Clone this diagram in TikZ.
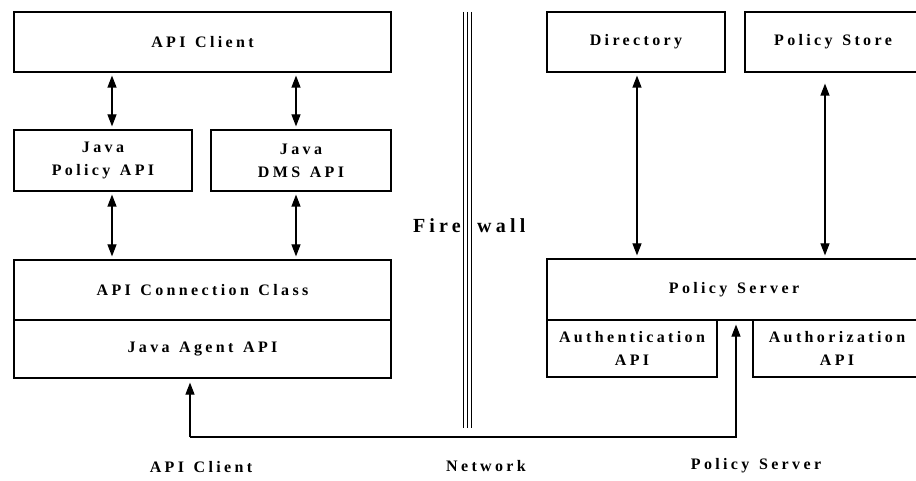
\documentclass[tikz,border=0pt]{standalone}
\usepackage{fontspec}
\newfontfamily\figfont{Liberation Serif}[LetterSpace=21, WordSpace=1.3]
\usetikzlibrary{arrows.meta}

\tikzset{
    blk/.style={draw, line width=1.2pt, inner sep=0pt, align=center,
        font=\figfont\bfseries\fontsize{16}{23}\selectfont},
    lbl/.style={inner sep=0pt, font=\figfont\bfseries\fontsize{16}{23}\selectfont},
    walllbl/.style={inner sep=0pt, font=\figfont\bfseries\fontsize{20}{24}\selectfont},
    arr/.style={{Triangle[length=12pt,width=9pt]}-{Triangle[length=12pt,width=9pt]},
        line width=1.2pt, shorten >=3pt, shorten <=3pt},
    uparr/.style={-{Triangle[length=12pt,width=9pt]}, line width=1.2pt}
}

\begin{document}
\begin{tikzpicture}[x=1pt, y=-1pt]
    \useasboundingbox (0,0) rectangle (916,481);
    % API client side
    \node[blk, minimum width=377, minimum height=60] (client) at (202.5,42) {API Client};
    \node[blk, minimum width=178, minimum height=61] (policyapi) at (103,160.5) {Java\\Policy API};
    \node[blk, minimum width=180, minimum height=61] (dmsapi) at (301,160.5) {Java\\DMS API};
    \node[blk, minimum width=377, minimum height=60] (conn) at (202.5,290) {API Connection Class};
    \node[blk, minimum width=377, minimum height=58] (agent) at (202.5,349) {Java Agent API};
    \draw[arr] (client.south -| 112,0) -- (policyapi.north -| 112,0);
    \draw[arr] (client.south -| 296,0) -- (dmsapi.north -| 296,0);
    \draw[arr] (policyapi.south -| 112,0) -- (conn.north -| 112,0);
    \draw[arr] (dmsapi.south -| 296,0) -- (conn.north -| 296,0);
    % Policy server side
    \node[blk, minimum width=178, minimum height=60] (directory) at (636,42) {Directory};
    \node[blk, minimum width=176, minimum height=60] (store) at (833,42) {Policy Store};
    \node[blk, minimum width=374, minimum height=61] (server) at (734,289.5) {Policy Server};
    \node[blk, minimum width=170, minimum height=57] (authn) at (632,348.5) {Authentication\\API};
    \node[blk, minimum width=168, minimum height=57] (authz) at (837,348.5) {Authorization\\API};
    \draw[arr] (directory.south -| 637,0) -- (server.north -| 637,0);
    \draw[arr, shorten <=11pt] (store.south -| 825,0) -- (server.north -| 825,0);
    % Firewall
    \foreach \fx in {463,467,471} {
        \draw[line width=1pt] (\fx,12) -- (\fx,428);
    }
    \node[walllbl, anchor=east] (fire) at (461,226) {Fire};
    \node[walllbl, anchor=west] (wall) at (477,226) {wall};
    % Network link
    \coordinate (nl) at (190,437);
    \coordinate (nr) at (736,437);
    \draw[uparr] (nl) -- (nr) -- ([yshift=-4pt]server.south -| nr);
    \draw[uparr] (nl) -- ([yshift=-4pt]agent.south -| nl);
    \node[lbl] (lclient) at (201,467) {API Client};
    \node[lbl] (lnet) at (486,466) {Network};
    \node[lbl] (lserver) at (756,466) {Policy Server};
\end{tikzpicture}
\end{document}
